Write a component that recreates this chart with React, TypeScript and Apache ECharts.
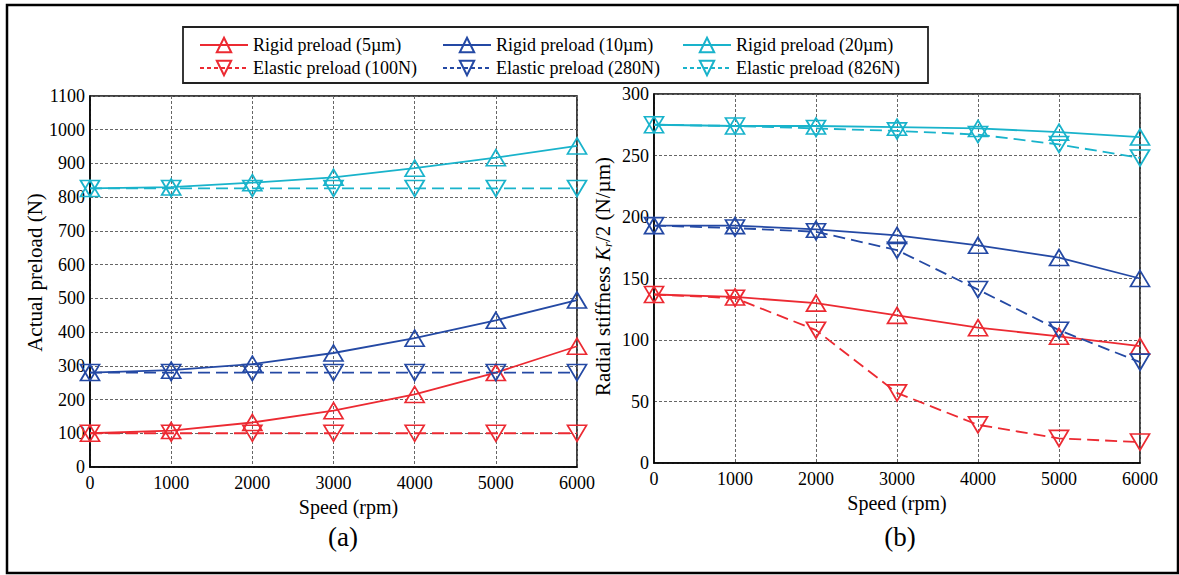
import React, { useEffect, useRef } from "react";
import * as echarts from "echarts";

const speeds = [0, 1000, 2000, 3000, 4000, 5000, 6000];

// (a) Actual preload (N)
const preloadRigid5 = [100, 108, 132, 167, 215, 280, 358];
const preloadElastic100 = [100, 100, 100, 100, 100, 100, 100];
const preloadRigid10 = [280, 287, 305, 338, 382, 435, 495];
const preloadElastic280 = [280, 280, 280, 280, 280, 280, 280];
const preloadRigid20 = [826, 830, 843, 859, 886, 917, 952];
const preloadElastic826 = [826, 826, 826, 826, 826, 826, 826];

// (b) Radial stiffness Kr/2 (N/µm)
const stiffRigid5 = [137, 135, 130, 120, 110, 103, 95];
const stiffElastic100 = [137, 134, 108, 57, 31, 20, 17];
const stiffRigid10 = [193, 193, 190, 185, 177, 167, 150];
const stiffElastic280 = [193, 191, 188, 173, 141, 108, 82];
const stiffRigid20 = [275, 274, 274, 273, 272, 269, 265];
const stiffElastic826 = [275, 274, 272, 270, 267, 259, 248];

const legendNames = [
  ["Rigid preload (5µm)", "Elastic preload (100N)"],
  ["Rigid preload (10µm)", "Elastic preload (280N)"],
  ["Rigid preload (20µm)", "Elastic preload (826N)"],
];

const RED = "#ec2a32";
const BLUE = "#2449a4";
const CYAN = "#19b3cb";
const FONT = "'Liberation Serif', 'Times New Roman', serif";

function mk(name: string, values: number[], color: string, dashed: boolean, grid: number) {
  return {
    name,
    type: "line",
    xAxisIndex: grid,
    yAxisIndex: grid,
    data: speeds.map((s, i) => [s, values[i]]),
    symbol: "triangle",
    symbolRotate: dashed ? 180 : 0,
    symbolSize: [19, 16],
    showSymbol: true,
    lineStyle: { color, width: 1.8, type: dashed ? [12, 6] : "solid" },
    itemStyle: { color: "transparent", borderColor: color, borderWidth: 1.7 },
    emphasis: { disabled: true },
  };
}

export default function App() {
  const ref = useRef<HTMLDivElement>(null);
  useEffect(() => {
    if (!ref.current) return;
    const chart = echarts.init(ref.current, undefined, { renderer: "svg" });
    const axisLabel = { fontFamily: FONT, fontSize: 18, color: "#000", formatter: (v: number) => String(v) };
    const splitLine = { show: true, lineStyle: { color: "#666", width: 1, type: [3, 2] } };
    const xAxisCommon = {
      type: "value",
      min: 0,
      max: 6000,
      interval: 1000,
      name: "Speed (rpm)",
      nameLocation: "middle",
      nameGap: 26,
      axisLine: { show: true, lineStyle: { color: "#000", width: 1.5 } },
      axisTick: { show: false },
      axisLabel: { ...axisLabel, margin: 7 },
      splitLine,
    };
    const option = {
      animation: false,
      backgroundColor: "#fff",
      grid: [
        { left: 90, top: 96, width: 487, height: 371, show: true, borderColor: "#000", borderWidth: 1.5, backgroundColor: "transparent" },
        { left: 654, top: 94, width: 486, height: 369, show: true, borderColor: "#000", borderWidth: 1.5, backgroundColor: "transparent" },
      ],
      xAxis: [
        { ...xAxisCommon, gridIndex: 0, nameTextStyle: { fontFamily: FONT, fontSize: 20, color: "#000", padding: [0, 0, 0, 30] } },
        { ...xAxisCommon, gridIndex: 1, nameTextStyle: { fontFamily: FONT, fontSize: 20, color: "#000" } },
      ],
      yAxis: [
        {
          type: "value",
          gridIndex: 0,
          min: 0,
          max: 1100,
          interval: 100,
          name: "Actual preload (N)",
          nameLocation: "middle",
          nameGap: 38,
          nameRotate: 90,
          nameTextStyle: { fontFamily: FONT, fontSize: 21, color: "#000", padding: [0, 0, 0, 18] },
          axisLine: { show: true, lineStyle: { color: "#000", width: 1.5 } },
          axisTick: { show: false },
          axisLabel: { ...axisLabel, margin: 5 },
          splitLine,
        },
        {
          type: "value",
          gridIndex: 1,
          min: 0,
          max: 300,
          interval: 50,
          name: "Radial stiffness {i|K}{s|r}/2 (N/µm)",
          nameLocation: "middle",
          nameGap: 40,
          nameRotate: 90,
          nameTextStyle: {
            fontFamily: FONT,
            fontSize: 21,
            color: "#000",
            padding: [0, 0, 0, 4],
            rich: {
              i: { fontFamily: FONT, fontSize: 21, fontStyle: "italic", color: "#000" },
              s: { fontFamily: FONT, fontSize: 13, fontStyle: "italic", color: "#000", verticalAlign: "bottom", padding: [9, 0, 0, 0] },
            },
          },
          axisLine: { show: true, lineStyle: { color: "#000", width: 1.5 } },
          axisTick: { show: false },
          axisLabel: { ...axisLabel, margin: 5 },
          splitLine,
        },
      ],
      legend: legendNames.map((names, i) => ({
        data: [
          { name: names[0] },
          { name: names[1], lineStyle: { type: [4, 3] } },
        ],
        orient: "vertical",
        left: [199, 442, 682][i],
        top: 36,
        padding: 0,
        itemGap: 5,
        itemWidth: 48,
        itemHeight: 18,
        selectedMode: false,
        textStyle: { fontFamily: FONT, fontSize: 18, color: "#000" },
      })),
      graphic: [
        { type: "rect", shape: { x: 7, y: 5, width: 1171, height: 568 }, style: { fill: "none", stroke: "#000", lineWidth: 2.5 }, z: 100 },
        { type: "rect", shape: { x: 183, y: 27, width: 745, height: 56 }, style: { fill: "none", stroke: "#222", lineWidth: 1.8 }, z: 100 },
        { type: "text", x: 343, y: 537, style: { text: "(a)", fontFamily: FONT, fontSize: 27, fill: "#000", textAlign: "center", textVerticalAlign: "middle" } },
        { type: "text", x: 900, y: 537, style: { text: "(b)", fontFamily: FONT, fontSize: 27, fill: "#000", textAlign: "center", textVerticalAlign: "middle" } },
      ],
      series: [
        mk(legendNames[0][0], preloadRigid5, RED, false, 0),
        mk(legendNames[0][1], preloadElastic100, RED, true, 0),
        mk(legendNames[1][0], preloadRigid10, BLUE, false, 0),
        mk(legendNames[1][1], preloadElastic280, BLUE, true, 0),
        mk(legendNames[2][0], preloadRigid20, CYAN, false, 0),
        mk(legendNames[2][1], preloadElastic826, CYAN, true, 0),
        mk(legendNames[0][0], stiffRigid5, RED, false, 1),
        mk(legendNames[0][1], stiffElastic100, RED, true, 1),
        mk(legendNames[1][0], stiffRigid10, BLUE, false, 1),
        mk(legendNames[1][1], stiffElastic280, BLUE, true, 1),
        mk(legendNames[2][0], stiffRigid20, CYAN, false, 1),
        mk(legendNames[2][1], stiffElastic826, CYAN, true, 1),
      ],
    };
    chart.setOption(option as any);
    return () => chart.dispose();
  }, []);
  return <div ref={ref} style={{ position: "absolute", left: 0, top: 0, width: 1179, height: 575 }} />;
}
